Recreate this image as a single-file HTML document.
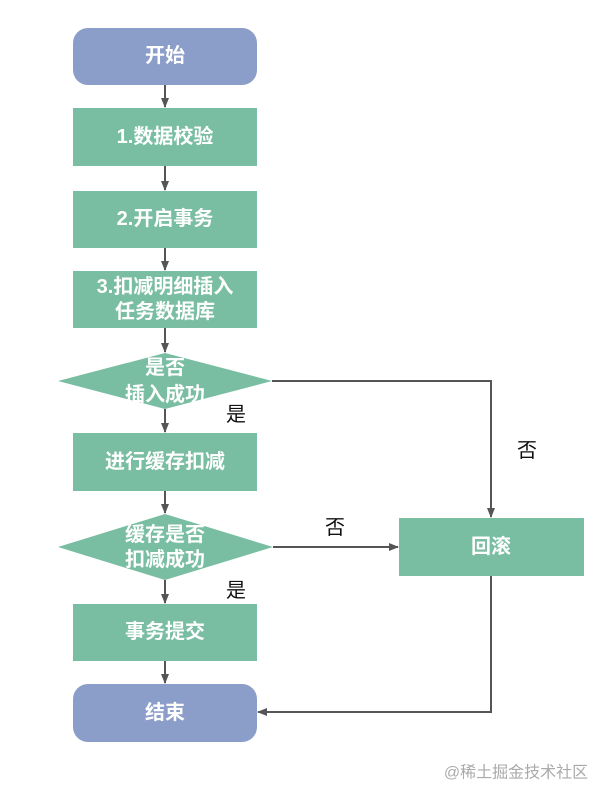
<!DOCTYPE html>
<html><head><meta charset="utf-8"><style>
html,body{margin:0;padding:0;background:#fff;}
svg{display:block;}
text{font-family:"Liberation Sans","Noto Sans CJK SC",sans-serif;}
.w{fill:#fff;font-size:20px;font-weight:bold;text-anchor:middle;dominant-baseline:central;}
.b{fill:#111;font-size:20px;font-weight:normal;text-anchor:middle;dominant-baseline:central;}
</style></head><body>
<svg width="607" height="800" viewBox="0 0 607 800" xmlns="http://www.w3.org/2000/svg">
<defs>
<marker id="ah" markerWidth="10" markerHeight="10" refX="9" refY="5" orient="auto" markerUnits="userSpaceOnUse">
<path d="M0,1 L10,5 L0,9 z" fill="#555"/>
</marker>
</defs>
<g fill="#79bea2">
<rect x="73" y="108" width="184" height="58"/>
<rect x="73" y="191" width="184" height="57"/>
<rect x="73" y="271" width="184" height="57"/>
<polygon points="58,381 165,353 272,381 165,409"/>
<rect x="73" y="433" width="184" height="58"/>
<polygon points="58,547 165,514 273,547 165,580"/>
<rect x="73" y="604" width="184" height="57"/>
<rect x="399" y="518" width="185" height="58"/>
</g>
<g fill="#8b9dc9">
<rect x="73" y="28" width="184" height="57" rx="15"/>
<rect x="73" y="684" width="184" height="58" rx="15"/>
</g>
<g stroke="#555" stroke-width="2" fill="none">
<line x1="165" y1="85" x2="165" y2="107" marker-end="url(#ah)"/>
<line x1="165" y1="166" x2="165" y2="190" marker-end="url(#ah)"/>
<line x1="165" y1="248" x2="165" y2="270" marker-end="url(#ah)"/>
<line x1="165" y1="328" x2="165" y2="352" marker-end="url(#ah)"/>
<line x1="165" y1="409" x2="165" y2="432" marker-end="url(#ah)"/>
<line x1="165" y1="491" x2="165" y2="513" marker-end="url(#ah)"/>
<line x1="165" y1="580" x2="165" y2="603" marker-end="url(#ah)"/>
<line x1="165" y1="661" x2="165" y2="683" marker-end="url(#ah)"/>
<polyline points="272,381 491,381 491,517" marker-end="url(#ah)"/>
<line x1="273" y1="547" x2="398" y2="547" marker-end="url(#ah)"/>
<polyline points="491,576 491,712 258,712" marker-end="url(#ah)"/>
</g>
<text class="w" x="165" y="56">开始</text>
<text class="w" x="165" y="137">1.数据校验</text>
<text class="w" x="165" y="219">2.开启事务</text>
<text class="w" x="165" y="287">3.扣减明细插入</text>
<text class="w" x="165" y="312">任务数据库</text>
<text class="w" x="165" y="368">是否</text>
<text class="w" x="165" y="395">插入成功</text>
<text class="w" x="165" y="462">进行缓存扣减</text>
<text class="w" x="165" y="535">缓存是否</text>
<text class="w" x="165" y="560">扣减成功</text>
<text class="w" x="165" y="632">事务提交</text>
<text class="w" x="165" y="713">结束</text>
<text class="w" x="491" y="547">回滚</text>
<text class="b" x="236" y="415">是</text>
<text class="b" x="527" y="451">否</text>
<text class="b" x="335" y="528">否</text>
<text class="b" x="236" y="591">是</text>
<text x="516" y="773" style="fill:#aaa;font-size:16px;text-anchor:middle;dominant-baseline:central;">@稀土掘金技术社区</text>
</svg>
</body></html>
